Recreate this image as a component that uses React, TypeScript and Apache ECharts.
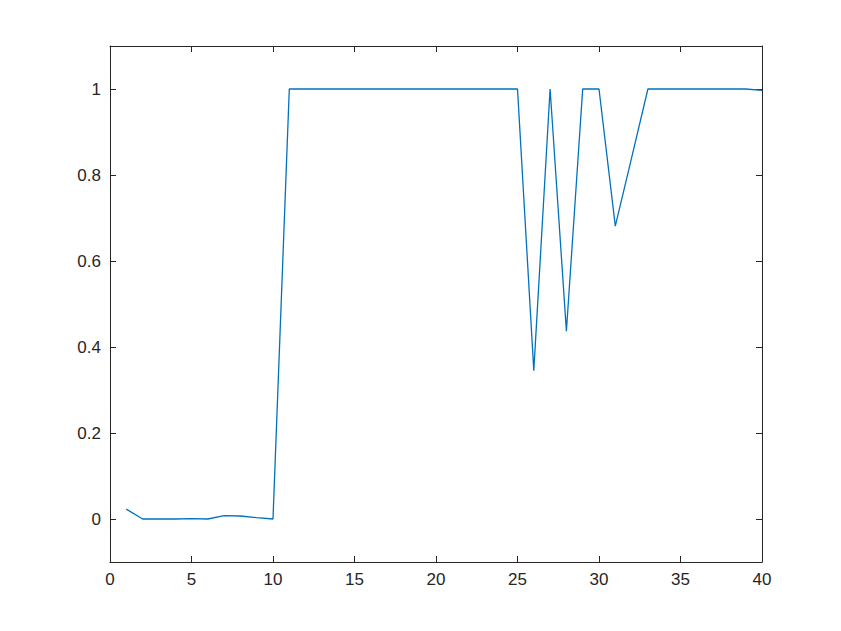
import React, { useEffect, useRef } from "react";
import * as echarts from "echarts";

const xValues = [1,2,3,4,5,6,7,8,9,10,11,12,13,14,15,16,17,18,19,20,21,22,23,24,25,26,27,28,29,30,31,32,33,34,35,36,37,38,39,40];
const yValues = [0.023,0,0,0,0.001,0,0.008,0.007,0.003,0,1,1,1,1,1,1,1,1,1,1,1,1,1,1,1,0.345,1,0.437,1,1,0.681,0.84,1,1,1,1,1,1,1,0.997];
const xTicks = [0,5,10,15,20,25,30,35,40];
const yTicks = [0,0.2,0.4,0.6,0.8,1];

export default function App() {
  const ref = useRef<HTMLDivElement>(null);
  useEffect(() => {
    const chart = echarts.init(ref.current!, null, { renderer: "svg" });
    const axisLine = { show: true, onZero: false, lineStyle: { color: "#262626", width: 1 } };
    const font = { color: "#262626", fontSize: 17, fontFamily: "Liberation Sans, Arial, sans-serif" };
    chart.setOption({
      animation: false,
      backgroundColor: "#ffffff",
      grid: { left: 110, top: 46, right: 79, bottom: 69, containLabel: false },
      xAxis: [
        {
          type: "value", min: 0, max: 40, interval: 5, position: "bottom",
          axisLine, splitLine: { show: false },
          axisTick: { show: true, inside: true, length: 6, customValues: xTicks, lineStyle: { color: "#262626" } },
          axisLabel: { ...font, margin: 9, customValues: xTicks, formatter: (v: number) => String(v) },
        },
        {
          type: "value", min: 0, max: 40, interval: 5, position: "top",
          axisLine, splitLine: { show: false },
          axisTick: { show: true, inside: true, length: 6, lineStyle: { color: "#262626" } },
          axisLabel: { show: false },
        },
      ],
      yAxis: [
        {
          type: "value", min: -0.1, max: 1.1, position: "left",
          axisLine, splitLine: { show: false },
          axisTick: { show: true, inside: true, length: 6, customValues: yTicks, lineStyle: { color: "#262626" } },
          axisLabel: { ...font, margin: 9, customValues: yTicks, formatter: (v: number) => String(Math.round(v * 10) / 10) },
        },
        {
          type: "value", min: -0.1, max: 1.1, position: "right",
          axisLine, splitLine: { show: false },
          axisTick: { show: true, inside: true, length: 6, customValues: yTicks, lineStyle: { color: "#262626" } },
          axisLabel: { show: false, customValues: yTicks },
        },
      ],
      series: [
        {
          type: "line",
          data: xValues.map((x, i) => [x, yValues[i]]),
          xAxisIndex: 0, yAxisIndex: 0,
          showSymbol: false, symbol: "none",
          lineStyle: { color: "#0072BD", width: 1.3 },
        },
      ],
    });
    return () => chart.dispose();
  }, []);
  return <div ref={ref} style={{ position: "fixed", left: 0, top: 0, width: 841, height: 631 }} />;
}
